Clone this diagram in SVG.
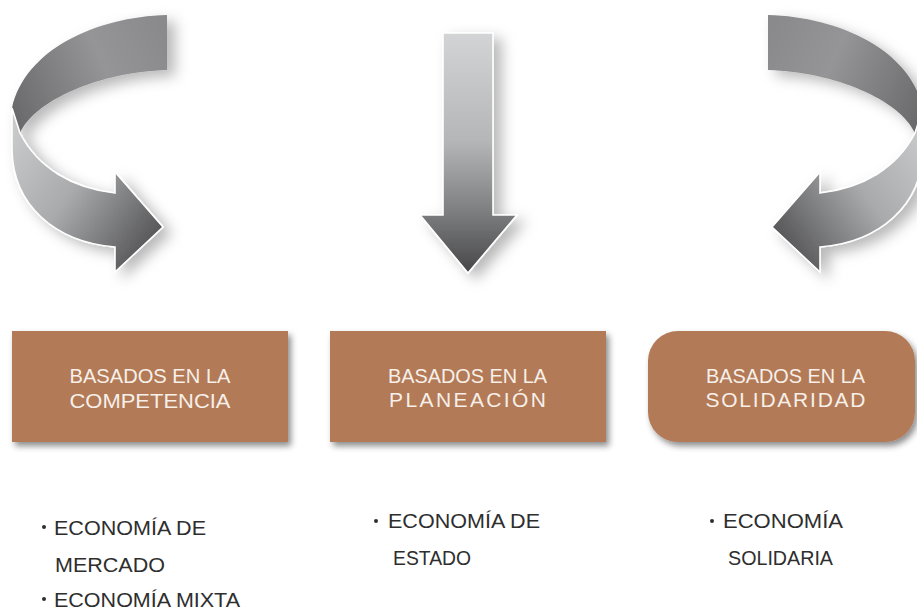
<svg xmlns="http://www.w3.org/2000/svg" width="917" height="610" viewBox="0 0 917 610">
<style>
.box{fill:#b27a57;filter:url(#boxshadow)}
.bt{font-family:"Liberation Sans","DejaVu Sans",sans-serif;font-size:21px;fill:#f7efe9;text-anchor:middle}
.lt{font-family:"Liberation Sans","DejaVu Sans",sans-serif;font-size:20px;fill:#2e2e2e}
.bul{fill:#2e2e2e}
.edge{stroke:#ffffff;stroke-width:1.6;stroke-linejoin:miter}
</style>
<defs>
<filter id="boxshadow" x="-10%" y="-20%" width="125%" height="150%">
<feDropShadow dx="3" dy="4" stdDeviation="3" flood-color="#000" flood-opacity="0.45"/>
</filter>
<filter id="arrowshadow" x="-20%" y="-20%" width="150%" height="150%">
<feDropShadow dx="8" dy="6" stdDeviation="7" flood-color="#000" flood-opacity="0.28"/>
</filter>
<linearGradient id="back" gradientUnits="userSpaceOnUse" x1="167" y1="40" x2="12" y2="110">
<stop offset="0" stop-color="#8a8a8c"/>
<stop offset="0.4" stop-color="#959597"/>
<stop offset="1" stop-color="#6a6a6c"/>
</linearGradient>
<linearGradient id="front" gradientUnits="userSpaceOnUse" x1="12" y1="130" x2="165" y2="240">
<stop offset="0" stop-color="#c9cacc"/>
<stop offset="0.45" stop-color="#a9aaac"/>
<stop offset="1" stop-color="#4f4f51"/>
</linearGradient>
<linearGradient id="down" gradientUnits="userSpaceOnUse" x1="0" y1="33" x2="0" y2="273">
<stop offset="0" stop-color="#d3d4d6"/>
<stop offset="0.45" stop-color="#b5b6b8"/>
<stop offset="0.75" stop-color="#7c7d7f"/>
<stop offset="1" stop-color="#464648"/>
</linearGradient>
<g id="curlArrow">
<path d="M167,15 C95,17 25,50 12,108 L20,133 C35,100 100,72 167,70 Z" fill="url(#back)"/>
<path class="edge" d="M12,108 L20,133 C38,168 72,188 115,193 L115,172 L163,227 L115,272 L115,247 C55,242 13,205 12,150 Z" fill="url(#front)"/>
</g>
</defs>

<g id="connectors">
<g id="arrow-left" filter="url(#arrowshadow)">
<use href="#curlArrow"/>
</g>
<g id="arrow-middle" filter="url(#arrowshadow)">
<path class="edge" d="M443,33 L493,33 L493,215 L517,215 L468,273 L420,215 L443,215 Z" fill="url(#down)"/>
</g>
<g id="arrow-right" filter="url(#arrowshadow)">
<use href="#curlArrow" transform="translate(935,0) scale(-1,1)"/>
</g>
</g>

<g id="node-competencia">
<rect class="box" x="12" y="331" width="276" height="111"/>
<text class="bt" x="150" y="383" textLength="161" lengthAdjust="spacingAndGlyphs">BASADOS EN LA</text>
<text class="bt" x="150" y="408" textLength="161" lengthAdjust="spacingAndGlyphs">COMPETENCIA</text>
</g>

<g id="node-planeacion">
<rect class="box" x="330" y="331" width="276" height="111"/>
<text class="bt" x="467.5" y="383" textLength="159" lengthAdjust="spacingAndGlyphs">BASADOS EN LA</text>
<text class="bt" x="467.5" y="407" textLength="157" lengthAdjust="spacing">PLANEACIÓN</text>
</g>

<g id="node-solidaridad">
<rect class="box" x="648" y="331" width="267" height="111" rx="30" ry="30"/>
<text class="bt" x="785.5" y="383" textLength="159" lengthAdjust="spacingAndGlyphs">BASADOS EN LA</text>
<text class="bt" x="785.5" y="407" textLength="160" lengthAdjust="spacing">SOLIDARIDAD</text>
</g>

<g id="list-competencia">
<circle class="bul" cx="44" cy="527" r="2"/>
<text class="lt" x="54" y="535" textLength="152" lengthAdjust="spacingAndGlyphs">ECONOMÍA DE</text>
<text class="lt" x="55" y="572" textLength="110" lengthAdjust="spacingAndGlyphs">MERCADO</text>
<circle class="bul" cx="44" cy="599" r="2"/>
<text class="lt" x="54" y="607" textLength="186" lengthAdjust="spacingAndGlyphs">ECONOMÍA MIXTA</text>
</g>

<g id="list-planeacion">
<circle class="bul" cx="376" cy="521" r="2"/>
<text class="lt" x="388" y="528" textLength="152" lengthAdjust="spacingAndGlyphs">ECONOMÍA DE</text>
<text class="lt" x="393" y="565" textLength="78" lengthAdjust="spacingAndGlyphs">ESTADO</text>
</g>

<g id="list-solidaridad">
<circle class="bul" cx="712" cy="521" r="2"/>
<text class="lt" x="723" y="528" textLength="120" lengthAdjust="spacingAndGlyphs">ECONOMÍA</text>
<text class="lt" x="728" y="565" textLength="105" lengthAdjust="spacingAndGlyphs">SOLIDARIA</text>
</g>
</svg>
